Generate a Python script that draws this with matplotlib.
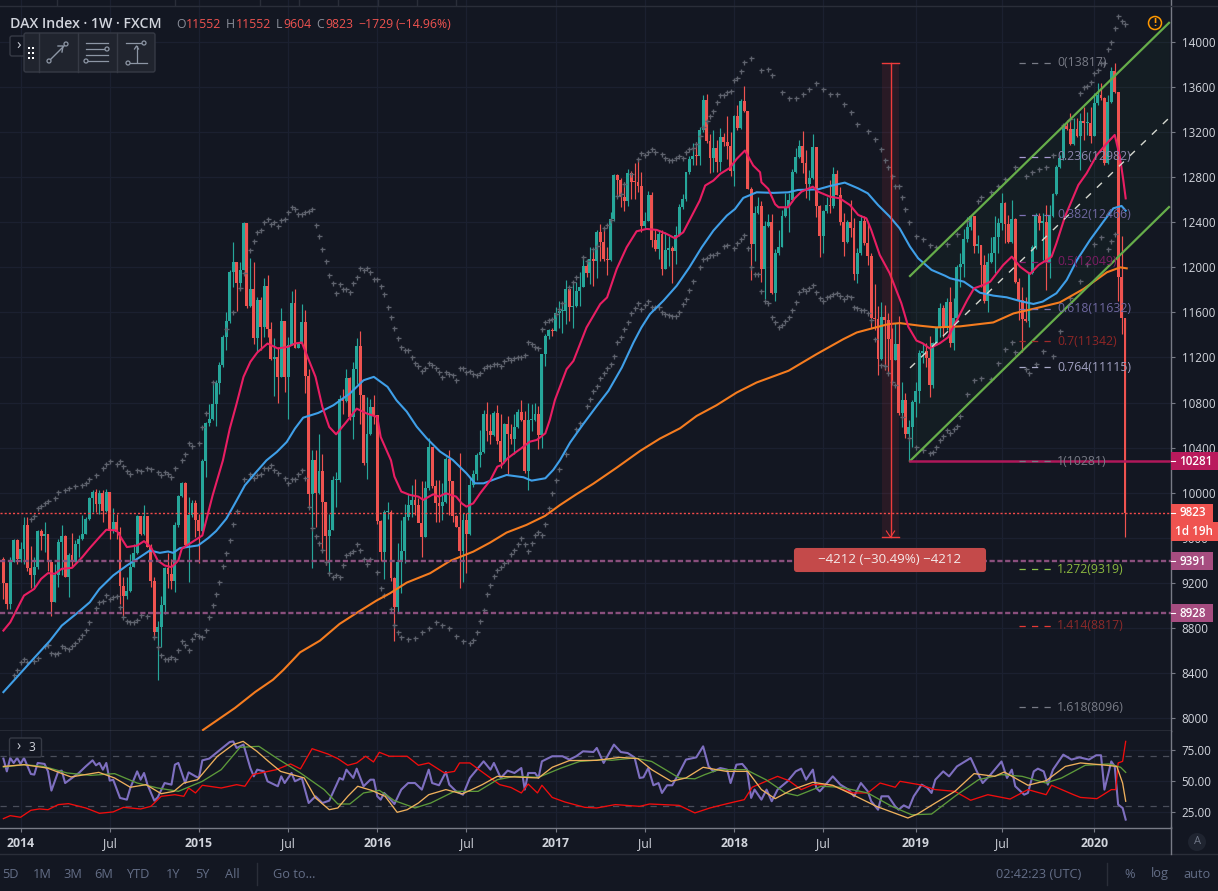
import matplotlib
matplotlib.use("Agg")
import matplotlib.pyplot as plt
from matplotlib.patches import Rectangle, FancyBboxPatch, Circle
from matplotlib.transforms import blended_transform_factory as blend

first_open = 9407
closes = [
9197,9013,9389,9576,9413,9496,9709,9330,9265,9339, 9659,9612,9635,9383,9028,9271,9561,9612,9256,9451,
9383,9546,9591,9635,9769,9952,10006,9896,9997,9834, 10006,9659,9736,9647,9176,9087,9126,9339,9466,9789,
9635,9789,9517,9220,8761,8812,9007,9330,9280,9220, 9709,9967,10086,9540,9798,9908,9760,9659,10278,10622,
10655,10785,10975,11132,11383,11523,11961,12044,11863,11976, 12397,11659,11807,11374,11709,11472,11834,11457,11185,11206,
11028,11523,11028,11309,11680,11286,11324,11511,11037,9991, 10293,9997,10189,9917,9612,9671,10109,10115,10835,10815,
11022,10672,11102,11300,10865,10263,10518,10761,10687,9748, 9472,9828,9828,9244,8983,9383,9483,9788,9891,9936,
9891,9729,9610,10039,10409,10060,9912,9882,9921,10296, 10104,9794,9699,9483,9758,9634,10069,10166,10335,10365,
10696,10548,10512,10711,10459,10275,10607,10518,10474,10584, 10720,10643,10192,10643,10646,10696,10512,11229,11392,11443,
11437,11594,11615,11615,11807,11650,11659,11792,11828,12015, 11949,12074,12059,12317,12222,12074,12068,12429,12823,12779,
12622,12592,12838,12761,12755,12726,12370,12415,12646,12246, 12163,12296,11985,12157,12172,12148,12290,12533,12607,12844,
12963,12992,12984,13221,13481,13117,12969,13061,12933,13161, 13111,13081,12859,13339,13235,13472,13387,12696,12207,12483,
12548,11985,12370,12400,11769,12127,12184,12456,12524,12598, 12849,12982,13077,12923,12740,12790,13065,12548,12278,12500,
12553,12545,12829,12642,12406,12228,12406,12346,11941,12130, 12411,12219,12101,11548,11542,11187,11557,11533,11364,11178,
11320,10705,10823,10521,10580,10808,10903,11237,11261,11193, 10956,11326,11459,11636,11459,11690,11332,11554,12006,12030,
12249,12361,12456,12193,12198,12021,11705,12051,12125,12272, 12397,12574,12385,12228,12429,11873,11710,11539,11527,11947,
12184,12456,12397,12406,12051,12456,12651,12888,12968,13257, 13228,13092,13225,13166,13302,13284,13284,13166,13456,13530,
13506,12923,13465,13746,13553,11911,11552,9823]
highs = [
9428,9197,9428,9591,9591,9561,9783,9783,9531,9428, 9665,9680,9739,9635,9383,9368,9591,9715,9620,9463,
9641,9576,9620,9798,9783,9961,10020,10035,10020,10020, 10035,10006,9863,9813,9694,9250,9250,9457,9546,9798,
9789,9887,9789,9546,9250,8865,9087,9339,9463,9413, 9739,9976,10094,10094,9961,9932,9932,9813,10302,10628,
10791,10983,10998,11161,11398,11606,11976,12222,12044,12050, 12406,12397,12080,12050,11739,11739,11902,11932,11517,11369,
11295,11635,11523,11383,11789,11804,11324,11674,11620,11102, 10382,10382,10524,10340,9917,9813,10145,10183,10865,10924,
11102,11028,11161,11369,11434,10865,10850,10835,10871,10687, 9754,9843,9917,9843,9250,9551,9758,9900,9989,10069,
10122,9950,10104,10104,10483,10409,10113,10113,10083,10320, 10379,10104,9802,10350,9817,9817,10143,10202,10350,10557,
10732,10806,10696,10726,10776,10696,10622,10681,10607,10696, 10741,10821,10726,10800,10785,10800,10770,11235,11407,11452,
11466,11644,11704,11689,11887,11822,11881,11867,11955,12104, 12065,12178,12163,12332,12385,12355,12178,12489,12829,12829,
12794,12755,12874,12859,12924,12963,12844,12489,12675,12666, 12341,12332,12332,12317,12281,12192,12370,12563,12652,12850,
12992,13102,13111,13244,13526,13535,13185,13215,13126,13238, 13191,13339,13200,13354,13437,13496,13606,13392,12711,12548,
12622,12592,12415,12474,12474,12163,12332,12509,12657,12657, 12870,13056,13130,13210,13042,12864,13183,13065,12553,12509,
12627,12775,12888,12864,12716,12479,12420,12598,12435,12169, 12465,12456,12405,12125,11852,11657,11690,11666,11598,11459,
11509,11568,10986,10882,10645,10823,10986,11267,11326,11326, 11391,11341,11474,11687,11666,11725,11829,11725,12021,12125,
12338,12450,12465,12456,12287,12198,12110,12125,12273,12456, 12435,12657,12583,12465,12598,12435,11903,11829,11740,11962,
12198,12485,12480,12480,12553,12553,12657,12908,12997,13269, 13308,13367,13323,13323,13367,13426,13382,13426,13544,13633,
13633,13515,13530,13782,13817,13553,12282,11552]
lows = [
9057,8969,8969,9383,9368,9383,9368,9309,9155,9155, 9324,9487,9472,9309,8909,9028,9167,9265,9250,9078,
9339,9383,9428,9576,9629,9760,9828,9828,9813,9739, 9828,9591,9641,9591,9013,8894,9057,9117,9339,9457,
9620,9620,9517,9161,8702,8340,8628,8924,9155,9146, 9117,9694,9961,9531,9206,9783,9606,9374,9650,10139,
10589,10649,10589,10880,11117,11265,11502,11828,11615,11798, 11976,11635,11650,11324,11250,11265,11383,11383,11176,10856,
10797,11028,10895,10657,11309,11280,11280,11324,10889,9872, 9330,9694,9991,9472,9354,9280,9665,9872,10094,10702,
10806,10643,10480,10963,10613,10243,10124,10509,10613,9724, 9398,9235,9769,9220,8687,8930,9107,9374,9758,9788,
9803,9743,9433,9610,10024,10039,9743,9743,9758,9906, 9803,9743,9699,9152,9211,9285,9625,10054,10113,10231,
10355,10459,10429,10504,10429,10222,10266,10163,10429,10341, 10578,10637,10178,10020,10548,10637,10385,10400,11126,11363,
11392,11431,11466,11413,11496,11526,11461,11650,11659,11822, 11911,11852,11837,11905,12059,12059,11935,12059,12415,12628,
12533,12503,12548,12607,12607,12666,12311,12341,12409,12178, 12148,12074,11935,11985,12015,11858,12030,12281,12518,12592,
12829,12904,12904,12904,13200,13102,12835,12844,12844,12859, 13081,12963,12815,12726,13215,13229,13378,12696,11890,12059,
12474,11866,11718,12355,11763,11698,12110,12178,12444,12317, 12583,12834,12968,12834,12613,12598,12781,12444,12095,12125,
12480,12480,12524,12642,12376,12101,12213,12272,11888,11864, 12110,12198,12021,11459,11444,11045,11178,11089,11060,10971,
11178,10690,10586,10483,10281,10409,10675,10793,11148,11119, 10853,10927,11326,11385,11385,11444,11296,11267,11533,11829,
11918,12228,12332,12125,12125,11829,11681,11607,12036,11947, 12125,12332,12213,12213,12219,11858,11533,11252,11518,11474,
11941,12160,12332,12065,11799,11903,12450,12642,12879,12953, 13219,13086,13086,13154,12864,13130,13175,13101,13166,13441,
13485,12908,12914,13456,13544,11704,11408,9604]

ma_fast = [(1,8776),(3,8850),(5,8968),(7,9087),(10,9146),(12,9235),(14,9286),(16,9280),(18,9324),(21,9333),(24,9428),(26,9502),(29,9605),(31,9671),(34,9665),(35.5,9591),(37,9517),(40,9531),(42,9570),(44,9517),(46,9398),(48,9354),(50,9339),(52,9398),(53,9502),(56,9561),(59,9620),(62,9976),(65,10287),(67,10569),(69,10791),(71,11028),(73,11161),(75,11244),(78,11324),(81,11280),(84,11295),(86,11324),(88,11333),(92,11028),(94,10761),(96,10583),(98,10518),(101,10628),(104,10746),(107,10702),(110,10672),(111,10494),(114,10287),(115,10143),(117,10010),(119.5,9980),(122,9965),(123.4,9936),(126.3,9986),(128,9965),(130,9995),(133,9965),(134.6,9906),(136,9876),(138,9906),(140,9995),(143,10113),(145,10231),(146.3,10246),(148,10305),(150.6,10364),(152,10394),(154.5,10453),(156.5,10468),(159,10527),(160.3,10646),(161.8,10823),(165.2,11096),(167.2,11170),(171,11466),(175,11674),(177,11733),(179.8,11985),(182.7,12178),(185.6,12320),(188.5,12341),(191.5,12332),(194.4,12296),(196.8,12258),(199.2,12311),(204,12592),(205.6,12726),(208,12770),(210,12830),(212.8,12883),(214.8,12963),(217.2,13037),(219.6,12904),(221.6,12844),(222,12755),(224,12696),(226,12560),(227,12533),(229.8,12533),(231.7,12613),(233.7,12672),(237,12716),(238.5,12672),(242,12627),(244.8,12613),(247.8,12553),(250.2,12465),(252.6,12435),(254,12332),(256.5,12110),(259.4,11947),(262.8,11681),(264.8,11474),(267.2,11350),(269,11326),(271,11281),(274,11326),(276.4,11379),(277,11415),(279,11533),(282,11710),(284,11814),(286.7,11843),(288.7,11873),(292.5,12021),(295,12095),(297.4,12006),(300.3,11941),(302.8,12021),(305.2,12065),(306.6,12095),(308,12213),(310.5,12450),(314.4,12731),(316.8,12834),(319.8,12997),(322.7,13101),(325,13175),(326.5,12982),(327.5,12775),(328.2,12612)]
ma_mid = [(1,8230),(4,8331),(9.7,8524),(14.6,8687),(18,8820),(22.8,8939),(26.2,9028),(29,9146),(33,9265),(37,9354),(40.8,9428),(43.7,9487),(46.6,9466),(49,9478),(50.5,9466),(52.5,9508),(57.8,9532),(60.7,9597),(63,9659),(66,9769),(69,9932),(71.4,10065),(74.3,10169),(77.7,10287),(80.7,10361),(83.6,10450),(86,10569),(88.4,10666),(92.8,10708),(97.2,10776),(102,10880),(106,10998),(109,11028),(113,10939),(115.6,10820),(118.6,10719),(121.5,10586),(124.4,10483),(128.3,10365),(132,10291),(136,10172),(138.5,10083),(141,10083),(145,10128),(147.7,10157),(152.6,10137),(155,10107),(159,10128),(161.3,10202),(163.3,10290),(166.2,10444),(170,10607),(174,10770),(177.4,10904),(181.3,11111),(184.7,11333),(187,11466),(189.5,11585),(193.4,11703),(197.3,11837),(201,12000),(204.6,12178),(208,12326),(211.9,12459),(214.3,12518),(216.7,12616),(220.6,12666),(225.5,12661),(229.8,12666),(232.7,12687),(238.5,12692),(242,12722),(246.3,12752),(250.2,12701),(253,12657),(256,12553),(259.4,12450),(262.3,12346),(265.3,12184),(267.7,12080),(271.6,11977),(275.5,11926),(277,11903),(281,11873),(285.7,11775),(289.6,11749),(293.5,11734),(298,11696),(301.3,11675),(304,11696),(308,11770),(311,11888),(314,12065),(317.8,12243),(321.7,12406),(324.6,12524),(327,12545),(328.2,12503)]
ma_slow = [(59.2,7894),(68.5,8089),(74.4,8231),(79.6,8340),(82.6,8426),(87.5,8583),(93.3,8687),(99,8835),(104,8933),(109.8,9043),(113.7,9107),(118.6,9202),(125.4,9285),(131.2,9394),(138,9477),(142.9,9557),(147.7,9646),(153.5,9714),(158.9,9794),(163.3,9891),(168,9985),(173,10080),(179.8,10222),(186.6,10370),(192.4,10480),(198.3,10572),(203.1,10681),(208.9,10776),(214.8,10889),(220.6,10978),(229.9,11082),(238.1,11230),(245.9,11363),(249.8,11422),(254.6,11461),(259,11496),(262.4,11505),(268.2,11482),(273,11467),(279.9,11476),(289.6,11511),(295.5,11591),(302.3,11639),(309,11689),(315.9,11808),(322.7,11956),(326.6,12000),(328.5,11991)]

band_upper = [(9,9770),(10,9790),(11,9860),(12,9880),(13,9910),(14,9930),(16,9955),(17,10005),(19,10020),(20,10045),(22,10055),(24,10065),(25,10090),(26,10125),(28,10160),(30,10215),(31,10255),(32,10280),(34,10255),(35,10280),(36,10240),(37,10190),(38,10165),(40,10205),(41,10190),(43,10220),(44,10210),(46,10185),(47,10160),(48,10185),(49,10170),(50,10140),(51,10220),(53,10290),(54,10345),(55,10445),(56,10415),(58,10445),(59,10585),(60,10710),(62,10985),(66,11455),(68,11605),(70,11815),(71,11950),(73,12150),(74,12235),(75,12310),(76,12330),(77,12405),(78,12425),(79,12385),(80,12400),(81,12370),(82,12420),(83,12425),(84,12490),(85,12535),(86,12520),(87,12470),(88,12470),(89,12495),(90,12500),(91,12515),(92,12380),(93,12280),(94,12160),(95,12060),(96,11935),(97,11865),(98,11770),(99,11850),(100,11805),(101,11805),(102,11785),(103,11865),(104,11915),(105,11990),(106,11980),(107,11990),(108,11960),(109,11893),(110,11900),(111,11830),(112,11760),(113,11650),(114,11560),(115,11460),(116,11375),
(117,11292),(118,11265),(119,11265),(120,11206),(121,11155),(122,11123),(123,11078),(124,11105),(125,11155),(126,11132),(127,11105),(128,11070),(129,11025),(130,11070),(131,11052),(132,11043),(133,10998),(134,11105),(135,11105),(136,11070),(137,11078),(138,11052),(139,11043),(140,11060),(141,11105),(142,11123),(143,11123),(144,11140),(145,11140),(146,11123),(147,11167),(148,11194),(149,11176),(150,11194),(151,11203),(152,11203),(153,11220),(154,11336),(155,11318),(156,11292),(157,11283),(158,11452),(159,11514),(160,11532),(161,11540),(162,11585),(163,11630),(164,11683),(166,11822),(167,11867),(168,11911),(170,12089),(171,12059),(173,12163),(174,12192),(176,12349),(177,12376),(178,12424),(180,12637),(181,12652),(182,12741),(184,12830),(186,12963),(187,13016),(188,12998),(189,13028),(190,13052),(191,13028),(193,13007),(194,12972),(195,12954),(196,12954),(197,12972),(198,12984),(199,12972),(200,13028),(201,13049),(202,13061),(203,13096),(204,13170),(205,13250),(206,13300),(207,13340),(208,13392),(209,13466),(210,13526),(211,13526),(212,13555),(213,13561),(214,13665),(215,13683),(216,13739),(217,13822),(219,13858),(222,13748),(224,13763),(225,13704),(228,13556),(230,13505),(232,13505),(234,13541),(236,13585),(238,13636),(240,13585),(242,13541),(244,13535),(246,13452),(248,13378),(250,13274),(253,13209),(255,13135),(257,13052),(258,12954),(259,12889),(260,12815),(261,12720),(262,12720),(263,12628),(264,12519),(265,12406),(267,12282),(269,12252),(271,12202),(273,12184),(276,12208),(279,12296),(282,12415),(285,12593),(286,12622),(289,12667),(291,12726),(293,12785),(296,12889),(299,12815),(301,12845),(303,12874),(305,12889),(307,12993),(310,13259),(312,13319),(315,13547),(316,13600),(317,13610),(318,13645),(319,13725),(320,13752),(321,13810),(322,13815),(323,13940),(324,14000),(325,14120),(326,14230),(327,14190),(328,14160)]
band_lower = [(4,8382),(5,8426),(6,8500),(7,8524),(8,8494),(10,8510),(11,8533),(13,8643),(14,8652),(15,8575),(16,8568),(17,8577),(18,8643),(19,8622),(20,8613),(21,8637),(22,8663),(23,8702),(24,8740),(25,8782),(26,8850),(28,8977),(29,9028),(30,9043),(31,9093),(32,9057),(33,9072),(34,9081),(35,8983),(36,8900),(37,8865),(38,8856),(39,8856),(40,8871),(41,8915),(43,8909),(45,8723),(46,8628),(47,8560),(48,8524),(49,8524),(50,8539),(51,8524),(52,8604),(53,8681),(54,8648),(55,8604),(56,8702),(57,8746),(58,8726),(59,8717),(60,8782),(61,8900),(62,9007),(63,9102),(64,9205),(65,9345),(66,9466),(67,9576),(68,9718),(69,9834),(71,10118),(73,10168),(74,10133),(75,10154),(76,10169),(77,10222),(78,10222),(79,10243),(80,10204),(81,10174),(83,10133),(84,10088),(85,10124),(86,10124),(87,10168),(88,10204),(89,10133),(90,9872),(91,9689),(92,9612),(93,9555),(94,9487),(95,9383),(96,9286),(97,9250),(98,9271),(99,9250),(100,9354),(101,9443),(102,9466),(103,9478),(104,9546),(105,9493),(106,9407),(107,9369),(108,9413),(110,9294),(111,9155),(112,9093),(114,8969),(115,8829),(116,8761),
(117,8720),(119,8700),(121,8710),(123,8760),(125,8800),(127,8850),(129,8830),(131,8800),(133,8730),(135,8680),(137,8670),(138,8690),(139,8760),(140,8860),(141,8960),(142,9098),(143,9178),(144,9258),(145,9311),(146,9338),(147,9374),(148,9391),(149,9454),(150,9489),(151,9542),(152,9595),(153,9542),(154,9480),(155,9551),(156,9622),(157,9649),(158,9622),(159,9723),(160,9862),(161,9995),(162,10113),(163,10208),(165,10346),(168,10563),(169,10622),(171,10770),(172,10829),(173,10904),(174,10948),(175,11022),(176,11066),(177,11111),(178,11141),(179,11209),(180,11333),(181,11378),(182,11452),(183,11511),(184,11594),(185,11638),(186,11683),(187,11630),(188,11665),(189,11704),(190,11644),(191,11650),(192,11650),(193,11600),(194,11585),(195,11576),(196,11564),(197,11564),(198,11606),(199,11674),(200,11718),(201,11798),(202,11881),(204,12000),(205,12074),(206,12083),(207,12109),(208,12109),(209,12124),(211,12192),(212,12201),(214,12169),(215,12213),(216,12252),(217,12287),(218,12169),(219,12000),(220,11941),(221,11941),(222,11792),(223,11704),(224,11683),(225,11555),(226,11511),(227,11468),(228,11489),(229,11527),(230,11557),(231,11622),(232,11696),(233,11778),(234,11805),(235,11790),(236,11814),(237,11843),(238,11778),(239,11725),(240,11705),(241,11740),(242,11749),(243,11764),(244,11770),(245,11749),(246,11716),(247,11746),(248,11737),(249,11645),(250,11636),(251,11619),(252,11619),(253,11592),(254,11533),(255,11361),(257,11134),(258,11125),(259,11060),(260,10986),(261,10956),(263,10675),(265,10483),(267,10403),(269,10379),(271,10350),(272,10359),(273,10409),(274,10468),(275,10503),(276,10557),(277,10527),(278,10563),(279,10593),(280,10680),(282,10880),(284,11000),(286,11016),(289,11008),(291,11147),(293,11274),(295,11333),(296,11245),(299,11097),(300,11058),(302,11141),(304,11259),(307,11215),(309,11437),(312,11730),(315,11882),(317,12030),(319,12208),(321,12267),(323,12163),(324,12237),(325,12296)]

rsi_main = [(1,68.3),(2,58),(3,68.8),(4,64.8),(5,68.8),(6,64),(7,68.8),(9,55.9),(10,55.4),(11,64.8),(13,64),(14,58),(15,42.5),(17,58),(18,58.6),(19,48.6),(21,52.7),(23,56.7),(25,62),(27,66.9),(28,62.9),(29,64.8),(30,59.4),(31,64.8),(32,50.5),(33,51.3),(35,36.6),(37,35.2),(38,44.6),(40,58),(41,51.3),(42,56.7),(43,47.3),(45,34.4),(46,37.1),(48,48.6),(50,47.3),(51,63.4),(52,64.8),(54,48.6),(55,57.2),(57,54),(58,52.7),(59,66.9),(61,68.3),(63,72.8),(67,81.7),(68,82.2),(69,76.9),(70,78.2),(71,79.6),(73,60.7),(74,54),(75,59.4),(77,58),(78,50),(81,46),(82,54),(83,48.6),(85,56.7),(86,50),(88,52.7),(90,32.5),(92,37.9),(93,35.2),(94,32.5),(96,34.4),(99,52.7),(100,51.3),(101,59.4),(103,52.7),(104,60.2),(106,46),(108,51.3),(109,51.3),(110,37.9),(111,35.2),(112,40.6),(113,37.9),(115,31.7),(117,43.3),(119,48.6),(121,48.6),(123,43.3),(125,59.4),(126,48.6),(128,46.8),(130,57.5),(131,47.3),(133,41.9),(135,39.2),(137,52.7),(139,59.4),(141,66.1),(143,59.4),(144,64.8),(146,52.7),(148,58.6),(150,56.7),(152,60.7),(153,43.3),(154,56.7),(156,56.7),(157,52.7),(158,66.1),(161,70.2),(164,70.2),(166,67.5),(168,70.2),(170,74.2),(173,73.6),(174,76.9),(176,64.8),(179,79.6),(181,73.6),(183,72.8),(185,69.3),(186.5,52.7),(187.6,53.2),(189,60.7),(190.5,46.8),(192,48.6),(193,40.6),(194.5,46.8),(196,46.8),(198,56.7),(200,67.5),(203,69.3),(205,78.2),(206.6,62),(208,58),(210,60.7),(212,59.4),(213,48.6),(214.7,63.4),(216.4,64),(217.8,59.4),(219,36.6),(220,43.3),(222,35.2),(223.5,43.3),(225,33.9),(226.7,43.3),(229.6,50),(232,58),(233.6,60.2),(235,51.3),(237,59.4),(238,44.6),(239,41.9),(240.7,47.3),(242.8,54),(245,47.3),(247.4,43.3),(249,37.9),(251,48.6),(253,41.9),(254,33.9),(256,27.1),(257,37.9),(259,37.9),(261,29.8),(262,27.1),(263.5,30.6),(265,28.5),(266.4,37.9),(268.7,47.3),(270.4,44.6),(271.6,40.6),(272.7,51.3),(275,58),(276.7,54),(279,62),(283,68.8),(284.8,58),(286.5,48.6),(288.8,55.4),(292,66),(293.6,52.7),(295,59.4),(296,46),(298.6,39.2),(299.7,40.6),(301.4,58),(302.6,60.2),(304.3,58),(305.5,47.3),(307,59.4),(309,67.5),(310,71.5),(312.4,67.5),(314.7,69.3),(317.5,67.5),(319.6,71),(321,71),(322,43.3),(324,66),(325,62),(326,31.2),(327.3,28.5),(328.2,19.1)]
rsi_red = [(1,19.9),(3,22.3),(6,21),(9,26.6),(11.5,27.7),(14,27.1),(17,31.2),(20,32),(25,28.5),(29,24.2),(33,25.3),(36,29),(41,27.7),(44,29.8),(47,37.9),(51,39.2),(53.6,37.9),(55,44.6),(57,40.6),(59,46.8),(64.5,44.6),(69,47.3),(71.4,46),(73.7,55.4),(80.6,59.4),(84.7,64),(87.6,60),(91,76.3),(95.6,72),(98.5,68.3),(101.4,62.9),(104,64.8),(106.6,70.2),(108.9,65.6),(110.6,73.4),(113.5,70.2),(118.7,70.2),(122,62.9),(125,64.8),(129.6,56.7),(132.5,58),(134,64.8),(137,64.8),(141,56.7),(145.7,47.3),(149,45),(152,40.6),(154,47.8),(156.7,40.6),(158,46.8),(161,37),(164.7,33.3),(170.5,29),(174,28.5),(179.4,31.2),(186.5,29.8),(189.4,31.7),(198,30.6),(202.6,24.5),(207,28.5),(210,30.6),(214,33.3),(217,35.2),(219.3,45.2),(223.3,50),(226.7,54),(230,50.5),(233.6,43.3),(237,47.3),(241.7,47.3),(248.6,40.6),(253,40.6),(256.6,48.6),(261,45.2),(262.4,50),(268,47.3),(272.7,43.3),(278.4,41.9),(283,34.7),(288,39.2),(294.5,35.7),(299.7,43.3),(305,39.2),(306.6,46.8),(313,39.2),(315,37),(319.8,36),(324,43.3),(325.3,43.3),(326,64.8),(327.3,66.1),(328.2,82.2)]
rsi_green = [(1,61.5),(7,63.4),(12.7,62),(19.6,56.7),(26.5,54.8),(33.4,56.2),(40,48.6),(46,44.6),(52,41.9),(59,50),(64.5,59.4),(70,77.4),(75.5,78.2),(80.6,68.8),(87.6,56.7),(94.5,43.3),(98.5,31.7),(102,31.7),(106,40.6),(110.6,42.7),(115,34.4),(121,28.5),(125.6,32.5),(132.5,41.9),(139.4,41.9),(145,51.3),(150,54),(157,53.2),(163.6,60.7),(169,66),(176,67.5),(178.4,67),(185,68.8),(190,66),(194,59.4),(198,52.7),(202.6,52),(205.5,55.4),(209.5,59.4),(217.5,59.4),(223.3,51.3),(229,40.6),(232.5,38.4),(239.4,46),(245,45.2),(253,40.6),(260,29.8),(265.8,23),(271.6,23.6),(278.4,37.9),(285.3,51.3),(292,55.4),(298,54),(305,48.6),(309.5,52.7),(316.4,62.9),(323.3,64),(326.7,61.3),(328.2,57.2)]
rsi_orange = [(1,62),(7,63.4),(13.8,60.7),(20.7,53.5),(28.8,57.2),(33.4,52.7),(38,45.2),(42.6,47.3),(47,40),(50.7,41.9),(53.6,48.6),(57.6,51.3),(63.4,70.2),(68,79.6),(70.9,82.2),(74.9,74.2),(78.3,66),(81.8,58),(88.7,52.7),(92,36.6),(96,27.1),(98.5,28.5),(101.4,37.9),(104.3,46),(108.3,42.7),(112.3,37.9),(115.8,25),(118.7,27.1),(122,32.5),(125,39.2),(130,43.3),(134.8,39.8),(140.6,47.3),(145,54),(150,53.5),(157,52.7),(161,61.3),(166,66.7),(174,66.9),(180.7,69.3),(186,68.3),(190,59.4),(195.7,50),(200,52.7),(205,61.3),(211.8,58),(218,58),(222,43.3),(226,36),(231,43.3),(237,49.2),(242.8,46.8),(248.6,39.2),(255.5,29.8),(264.7,20.4),(267.5,23.6),(272.7,32.5),(278.4,41.9),(284,56.2),(290,54),(292.8,57.5),(299.7,46.8),(305,50.5),(310.6,62),(315,64.8),(322.7,62.9),(325.6,62),(327.3,48.6),(328.2,33.9)]

price_ticks = list(range(8000, 14001, 400))
rsi_ticks = [25, 50, 75]
rsi_levels = [30, 70]
time_ticks = [6, 32, 58, 84, 110, 136, 162, 188, 214, 240, 267, 292, 319]
time_labels = ['2014','Jul','2015','Jul','2016','Jul','2017','Jul','2018','Jul','2019','Jul','2020']
fib_labels = ['0(13817)','0.236(12982)','0.382(12466)','0.5(12049)','0.618(11632)','0.7(11342)','0.764(11115)','1(10281)','1.272(9319)','1.414(8817)','1.618(8096)']
fib_prices = [13817,12982,12466,12049,11632,11342,11115,10281,9319,8817,8096]
fib_colors = ['#787b86','#a79ad0','#7e72b4','#8a1f6e','#7e72b4','#a12a2a','#a9a9c8','#787b86','#8bc34a','#e53935','#787b86']
fib_text_colors = ['#787b86','#8d86ad','#6f68a0','#7c1c63','#6f68a0','#8e2626','#a0a0c0','#787b86','#8bb83f','#8b2a2a','#787b86']
support_levels = [9391, 8928]
swing_low = 10281
last_price = 9823
measure_top, measure_bottom = 13817, 9605

BG='#131722'; GRID='#1b2030'; AXIS='#787b86'; TXT='#d1d4dc'; UP='#26a69a'; DOWN='#ef5350'; MUTED='#646e87'
plt.rcParams['font.family'] = ['Open Sans','DejaVu Sans']
W,H = 1218,891
fig = plt.figure(figsize=(W/100,H/100),dpi=100,facecolor=BG)
def axpos(x0,y0,x1,y1): return [x0/W,1-y1/H,(x1-x0)/W,(y1-y0)/H]
ax = fig.add_axes(axpos(0,0,1170.5,730.5),facecolor=BG)
rx = fig.add_axes(axpos(0,730.5,1170.5,827.5),facecolor=BG)
ui = fig.add_axes([0,0,1,1],zorder=10); ui.set_xlim(0,W); ui.set_ylim(H,0); ui.axis('off'); ui.patch.set_alpha(0)
def n_of(x): return (x-3.4)/3.43+1
ax.set_xlim(n_of(0),n_of(1170.5)); rx.set_xlim(n_of(0),n_of(1170.5))
ax.set_ylim(14000-(730.5-42)/0.11267,14000+42/0.11267)
rx.set_ylim(75-(827.5-750.3)/1.24,75+(750.3-730.5)/1.24)

idx=list(range(1,len(closes)+1)); opens=[first_open]+closes[:-1]
cols=[UP if c>=o else DOWN for o,c in zip(opens,closes)]
ax.vlines(idx,lows,highs,colors=cols,linewidth=0.85,zorder=2,antialiased=True)
ax.bar(idx,[max(abs(c-o),10) for o,c in zip(opens,closes)],bottom=[min(o,c) for o,c in zip(opens,closes)],width=0.84,color=cols,linewidth=0,zorder=2.1)

def xy(s): return [a for a,_ in s],[b for _,b in s]
for s,c in ((ma_slow,'#f57c1f'),(ma_mid,'#3f9fe8'),(ma_fast,'#e91e63')):
    ax.plot(*xy(s),color=c,lw=1.5,zorder=3,solid_joinstyle='round')
for s in (band_upper,band_lower):
    ax.plot(*xy(s),ls='none',marker='+',ms=3.6,mew=0.95,color='#5f636e',zorder=2.5)

# channel
xa,xb=n_of(910),n_of(1169)
ch_low=[10281,12535]; ch_up=[11923,14170]; ch_mid=[11107,13325]
ax.fill_between([xa,xb],ch_low,ch_up,color='#2e7d32',alpha=0.065,lw=0,zorder=1)
ax.plot([xa,xb],ch_low,color='#66ad4a',lw=1.6,zorder=3.5)
ax.plot([xa,xb],ch_up,color='#66ad4a',lw=1.6,zorder=3.5)
ax.plot([xa,xb],ch_mid,color='#d5d8d0',lw=1.0,ls=(0,(5,6)),zorder=3.5)
ax.plot([xa,xb],[swing_low,swing_low],color='#b0185a',lw=1.8,zorder=3.6)
for p in support_levels: ax.axhline(p,color='#8a4f7d',lw=1.7,ls=(0,(2.2,1.1)),zorder=3.6)
ax.axhline(last_price,color='#f44a4a',lw=1.0,ls=(0,(1.5,1.5)),zorder=3.7)

# measure tool
m0,m1=n_of(882),n_of(899); mc=n_of(890.5)
ax.add_patch(Rectangle((m0,measure_bottom),m1-m0,measure_top-measure_bottom,color='#f23645',alpha=0.1,lw=0,zorder=1))
ax.plot([mc,mc],[measure_bottom,measure_top],color='#ef3b3b',lw=1,zorder=4)
ax.plot([m0,m1],[measure_top]*2,color='#ef3b3b',lw=1,zorder=4)
ax.plot([m0,m1],[measure_bottom]*2,color='#ef3b3b',lw=1,zorder=4)
ax.plot([mc-1.2,mc,mc+1.2],[measure_bottom+55,measure_bottom,measure_bottom+55],color='#ef3b3b',lw=0.8,zorder=4)

# axes dress
for a in (ax,rx):
    for k in ('top','left'): a.spines[k].set_visible(False)
    a.spines['right'].set_color(AXIS); a.spines['bottom'].set_color(AXIS)
    a.spines['right'].set_linewidth(1); a.spines['bottom'].set_linewidth(1)
    a.yaxis.tick_right(); a.set_axisbelow(True)
    a.set_xticks(time_ticks); a.grid(True,color=GRID,lw=0.9)
    a.tick_params(axis='y',colors=TXT,labelsize=8.4,length=3,width=0.8,pad=5,color=AXIS)
ax.set_yticks(price_ticks); ax.set_yticklabels([str(p) for p in price_ticks])
ax.tick_params(axis='x',length=0,labelbottom=False)
rx.set_yticks(rsi_ticks); rx.set_yticklabels([f'{v:.2f}' for v in rsi_ticks])
rx.set_xticks(time_ticks); rx.set_xticklabels(time_labels)
rx.tick_params(axis='x',colors=TXT,labelsize=8.8,length=3,width=0.8,pad=4,color=AXIS)
for l,t in zip(rx.get_xticklabels(),time_labels):
    if t!='Jul': l.set_fontweight('bold')
for v in rsi_levels: rx.axhline(v,color='#4a4e5a',lw=0.9,ls=(0,(5,5)),zorder=1)
rx.plot(*xy(rsi_red),color='#f20d0d',lw=0.95,zorder=3)
rx.plot(*xy(rsi_green),color='#5d9a3a',lw=0.95,zorder=3)
rx.plot(*xy(rsi_orange),color='#eeb05c',lw=0.95,zorder=3)
rx.plot(*xy(rsi_main),color='#7e6fc0',lw=1.5,zorder=2.8)

# fib levels
tr=blend(ui.transData,ax.transData)
for lab,p,c,tc in zip(fib_labels,fib_prices,fib_colors,fib_text_colors):
    ui.plot([1019,1053],[p,p],transform=tr,color=c,lw=0.9,ls=(0,(5,5)))
    ui.text(1057,p,lab,transform=tr,color=tc,fontsize=8.8,va='center',ha='left')

# price labels
def plabel(p,txt,c,x1=1213):
    ui.add_patch(Rectangle((1170.5,p-80),x1-1170.5,160,transform=tr,color=c,lw=0))
    ui.plot([1170.5,1175],[p,p],transform=tr,color='white',lw=0.8)
    ui.text(1179,p,txt,transform=tr,color='white',fontsize=8.4,fontweight='semibold',va='center',ha='left')
plabel(swing_low,'10281','#ba1a5c',1218)
plabel(last_price,'9823','#ef5350')
for p in support_levels: plabel(p,str(p),'#a64d80')
ui.add_patch(Rectangle((1170.5,522),47.5,19,color='#ef5350',lw=0))
ui.text(1194,531.5,'1d 19h',color='white',fontsize=8.4,fontweight='semibold',ha='center',va='center')

# measure label
ui.add_patch(FancyBboxPatch((795,549),190,22,boxstyle='round,pad=0,rounding_size=2',fc='#c44a4a',ec='#c44a4a',lw=1.5))
ui.text(890,559.5,'\u22124212 (\u221230.49%) \u22124212',color='#f4eaea',fontsize=9.6,ha='center',va='center')

# header
ui.text(10,24,'DAX Index \u00b7 1W \u00b7 FXCM',color=TXT,fontsize=10.2,fontweight='semibold',va='center')
RED='#ef5350'
for x,t,c in ((176,'O','#8a8e99'),(186,'11552',RED),(226,'H','#8a8e99'),(236,'11552',RED),(276,'L','#8a8e99'),(283,'9604',RED),(316,'C','#8a8e99'),(325,'9823',RED),(358,'\u22121729',RED),(396,'(\u221214.96%)',RED)):
    ui.text(x,24,t,color=c,fontsize=8.8,va='center')

# top border
ui.plot([0,W],[5.5,5.5],color='#2a2e39',lw=1)
for x in (57,175,260,299,338,378,417,456): ui.plot([x,x],[0,5],color='#2a2e39',lw=1)

# drawing toolbar
ui.add_patch(FancyBboxPatch((10,36),18,20,boxstyle='round,pad=0,rounding_size=2',fc=BG,ec='#363a45',lw=1))
ui.text(19,46,'\u203a',color=TXT,fontsize=11,ha='center',va='center')
ui.add_patch(FancyBboxPatch((24,33),131,39,boxstyle='round,pad=0,rounding_size=2',fc='#20242e',ec='#363a45',lw=1,zorder=3))
for x in (38.5,77.5,116.5): ui.plot([x,x],[33,72],color='#363a45',lw=1,zorder=4)
for x in (29,33):
    for y in (48,53,58): ui.add_patch(Rectangle((x-1,y-1),2,2,color='white',lw=0,zorder=4))
IC='#8d96a5'
def circ(x,y): ui.add_patch(Circle((x,y),2,fc='#20242e',ec=IC,lw=0.9,zorder=5))
ui.plot([50,65],[60,45],color=IC,lw=1,zorder=4); ui.plot([58,63,62],[46,46,52],color=IC,lw=1,zorder=4); circ(49,61); circ(66,44)
for y,a,b in ((43,86,108),(49,86,106),(55,86,108),(61,88,108)): ui.plot([a,b],[y,y],color=IC,lw=0.9,zorder=4)
circ(107,49); circ(86,61)
ui.plot([126,142],[43,43],color=IC,lw=0.9,zorder=4); ui.plot([130,147],[63,63],color=IC,lw=0.9,zorder=4)
ui.plot([136.5,136.5],[46,62],color=IC,lw=0.9,zorder=4); ui.plot([134.5,136.5,138.5],[49,46,49],color=IC,lw=0.9,zorder=4)
circ(144,43); circ(128,63)

# alert
ui.add_patch(Circle((1155,23),6.5,fc=BG,ec='#ff9800',lw=1.1))
ui.text(1155,23,'!',color='#ff9800',fontsize=8,fontweight='bold',ha='center',va='center')

# RSI legend toggle
ui.add_patch(FancyBboxPatch((9.5,738),32,19,boxstyle='round,pad=0,rounding_size=2',fc=BG,ec='#363a45',lw=1))
ui.text(19,747,'\u203a',color=TXT,fontsize=10,ha='center',va='center')
ui.text(32,747.5,'3',color=TXT,fontsize=8.6,ha='center',va='center')

# bottom
ui.plot([0,W],[854,854],color='#2a2e39',lw=1)
ui.plot([1170.5,1170.5],[827,854],color=AXIS,lw=1)
ui.add_patch(Circle((1197,842),9,fc='#1f2430',ec='none'))
ui.text(1197,842,'A',color='#6e7585',fontsize=8,ha='center',va='center')
for x,t in ((10,'5D'),(42,'1M'),(73,'3M'),(104,'6M'),(138,'YTD'),(173,'1Y'),(202,'5Y'),(232,'All')):
    ui.text(x,874,t,color=MUTED,fontsize=9.2,ha='center',va='center')
ui.plot([257,257],[863,885],color='#2a2e39',lw=1)
ui.text(273,874,'Go to...',color=MUTED,fontsize=9.2,va='center')
ui.text(996,874,'02:42:23 (UTC)',color=MUTED,fontsize=9.2,va='center')
ui.plot([1107,1107],[863,885],color='#2a2e39',lw=1)
for x,t in ((1130,'%'),(1160,'log'),(1197,'auto')):
    ui.text(x,874,t,color=MUTED,fontsize=9.2,ha='center',va='center')

fig.savefig('out.png',dpi=100,facecolor=BG)
